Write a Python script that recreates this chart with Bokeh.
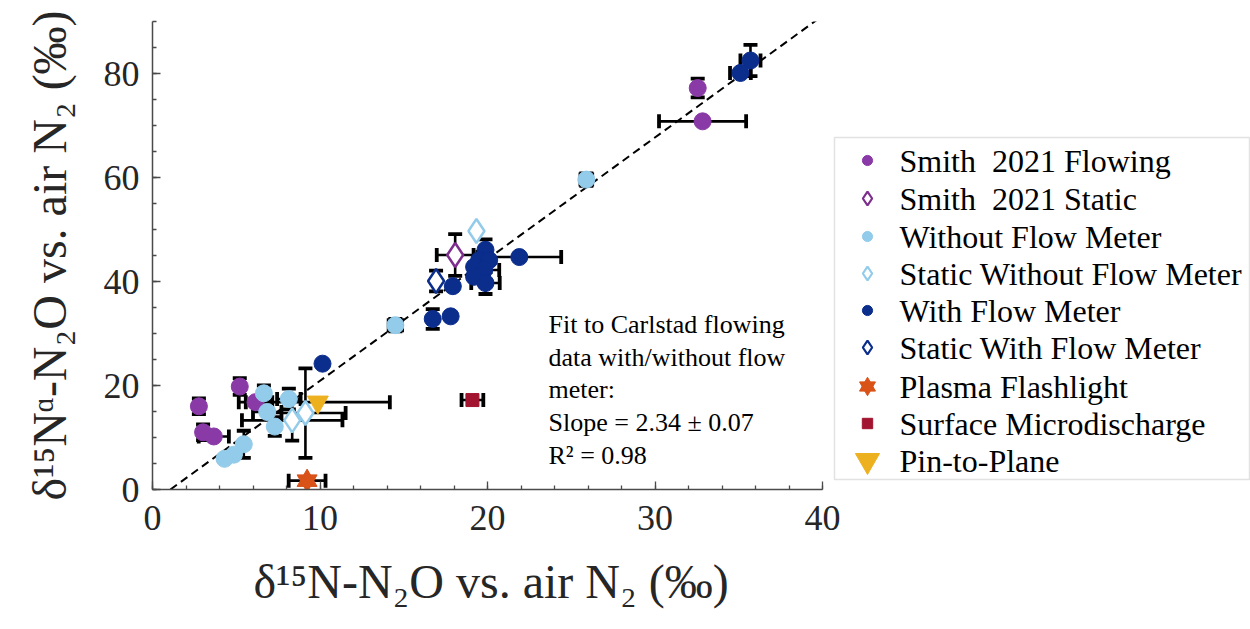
import numpy as np
from bokeh.plotting import figure
from bokeh.models import (Range1d, FixedTicker, Whisker, TeeHead, ColumnDataSource,
                          Label, BoxAnnotation, Title)
from bokeh.embed import file_html
from bokeh.resources import INLINE

FONT = "Liberation Serif"

# ---------------------------------------------------------------- data
x_ticks = [0, 10, 20, 30, 40]
y_ticks = [0, 20, 40, 60, 80]

smith_flow_x = [32.55, 32.84, 5.21, 2.77, 3.02, 3.66, 6.15]
smith_flow_y = [77.2, 70.8, 19.8, 16.0, 11.0, 10.2, 16.8]
smith_flow_xerr = [0, 2.6, 0, 0, 0, 0.9, 1.0]
smith_flow_yerr = [1.8, 0, 1.6, 1.5, 1.5, 0, 0]

smith_static_x = [18.07]
smith_static_y = [45.1]
smith_static_xerr = [1.1]
smith_static_yerr = [4.0]

without_x = [25.9, 14.5, 6.65, 8.14, 6.85, 7.3, 5.45, 4.86, 4.3]
without_y = [59.6, 31.6, 18.5, 17.4, 14.9, 12.1, 8.7, 6.7, 5.9]
without_xerr = [0.35, 0.4, 0, 0.7, 0.85, 0, 0, 0, 0]
without_yerr = [1.2, 1.2, 1.5, 2.0, 0, 1.8, 2.6, 0, 0]

static_without_x = [8.34, 9.13, 19.34]
static_without_y = [13.3, 14.7, 49.7]
static_without_xerr = [3.0, 2.4, 0]
static_without_yerr = [3.9, 8.6, 0]

with_x = [35.7, 35.1, 21.9, 19.88, 19.5, 20.1, 19.2, 19.8, 19.2, 19.88, 17.93, 16.73, 17.8, 10.15]
with_y = [82.5, 80.1, 44.7, 46.1, 44.1, 44.1, 42.8, 42.2, 40.9, 39.7, 39.1, 32.8, 33.3, 24.2]
with_xerr = [0.6, 0.62, 2.5, 0, 0, 0, 0, 0.9, 0, 0.85, 0, 0, 0, 0]
with_yerr = [3.0, 0, 0, 2.0, 0, 0, 0, 0, 0, 2.1, 0, 1.9, 0, 0]

static_with_x = [16.93]
static_with_y = [40.1]
static_with_xerr = [0]
static_with_yerr = [2.0]

plasma_x = [9.23]
plasma_y = [1.7]
plasma_xerr = [1.1]
plasma_yerr = [0]

surface_x = [19.1]
surface_y = [17.2]
surface_xerr = [0.65]
surface_yerr = [0]

pin_x = [9.87]
pin_y = [16.8]
pin_xerr = [4.3]
pin_yerr = [0]

fit_slope = 2.34
fit_intercept = -2.5

legend_labels = ["Smith\u00a0 2021 Flowing", "Smith\u00a0 2021 Static", "Without Flow Meter",
                 "Static Without Flow Meter", "With Flow Meter", "Static With Flow Meter",
                 "Plasma Flashlight", "Surface Microdischarge", "Pin-to-Plane"]

annotation_lines = ["Fit to Carlstad flowing", "data with/without flow", "meter:",
                    "Slope = 2.34 \u00b1 0.07", "R\u00b2 = 0.98"]

x_title = "\u03b4\u00b9\u2075N-N\u2082O vs. air N\u2082 (\u2030)"
y_title = "\u03b4\u00b9\u2075N\u1d45-N\u2082O vs. air N\u2082 (\u2030)"

# ---------------------------------------------------------------- layout
FIG_W, FIG_H = 1250, 629
LEFT, TOP, BOTTOM_BORDER = 152, 21, 140
AXIS_PX = 670                      # pixel length of the 0..40 x axis
FRAME_BOTTOM = FIG_H - BOTTOM_BORDER
X_AXIS_MAX = 40
Y_MAX = 90
PX_PER_X = AXIS_PX / X_AXIS_MAX
PX_PER_Y = (FRAME_BOTTOM - TOP) / Y_MAX
X_END = (FIG_W - LEFT) / PX_PER_X


def px2x(px):
    return (px - LEFT) / PX_PER_X


def px2y(py):
    return (FRAME_BOTTOM - py) / PX_PER_Y


PURPLE = "#8a3aa6"
PURPLE_D = "#7e2f8e"
LBLUE = "#93cbea"
DBLUE = "#0b2d8c"
ORANGE = "#d95319"
RED = "#a2142f"
YELLOW = "#edb120"

p = figure(width=FIG_W, height=FIG_H, x_range=Range1d(0, X_END), y_range=Range1d(0, Y_MAX),
           output_backend="svg", toolbar_location=None,
           min_border_left=LEFT, min_border_right=0, min_border_top=TOP,
           min_border_bottom=BOTTOM_BORDER)
p.grid.visible = False
p.outline_line_color = None
p.background_fill_color = "white"
p.border_fill_color = "white"

for ax in (p.xaxis[0], p.yaxis[0]):
    ax.axis_line_color = "#4a4a4a"
    ax.axis_line_width = 1.5
    ax.major_tick_line_color = "#4a4a4a"
    ax.minor_tick_line_color = "#4a4a4a"
    ax.major_tick_line_width = 1.3
    ax.minor_tick_line_width = 1.3
    ax.major_tick_in = 8
    ax.major_tick_out = 0
    ax.minor_tick_in = 4
    ax.minor_tick_out = 0
    ax.major_label_text_font = FONT
    ax.major_label_text_font_size = "36px"
    ax.major_label_text_color = "#262626"
    ax.axis_label_text_font = FONT
    ax.axis_label_text_font_size = "48px"
    ax.axis_label_text_font_style = "normal"
    ax.axis_label_text_color = "#262626"

p.xaxis.major_label_standoff = 16
p.yaxis.major_label_standoff = 13
p.yaxis.axis_label = y_title
p.yaxis.axis_label_standoff = 25

p.xaxis.bounds = (0, X_AXIS_MAX)
p.xaxis.ticker = FixedTicker(ticks=x_ticks, minor_ticks=list(range(0, X_AXIS_MAX + 1, 2)))
p.yaxis.ticker = FixedTicker(ticks=y_ticks, minor_ticks=list(range(0, Y_MAX + 1, 5)))

# x title centred under the 0..40 axis (not under the whole frame)
p.add_layout(Title(text=x_title, align="left", offset=101, standoff=40,
                   text_font=FONT, text_font_size="48px", text_font_style="normal",
                   text_color="#262626"), "below")


def add_errorbars(xs, ys, xerr, yerr):
    hx = [(x, y, e) for x, y, e in zip(xs, ys, xerr) if e > 0]
    vy = [(x, y, e) for x, y, e in zip(xs, ys, yerr) if e > 0]
    if hx:
        src = ColumnDataSource(dict(base=[h[1] for h in hx], lower=[h[0] - h[2] for h in hx],
                                    upper=[h[0] + h[2] for h in hx]))
        p.add_layout(Whisker(source=src, base="base", lower="lower", upper="upper",
                             dimension="width", line_color="black", line_width=2.6,
                             level="underlay",
                             upper_head=TeeHead(size=14, line_width=3.8, line_color="black"),
                             lower_head=TeeHead(size=14, line_width=3.8, line_color="black")))
    if vy:
        src = ColumnDataSource(dict(base=[v[0] for v in vy], lower=[v[1] - v[2] for v in vy],
                                    upper=[v[1] + v[2] for v in vy]))
        p.add_layout(Whisker(source=src, base="base", lower="lower", upper="upper",
                             dimension="height", line_color="black", line_width=2.6,
                             level="underlay",
                             upper_head=TeeHead(size=14, line_width=3.8, line_color="black"),
                             lower_head=TeeHead(size=14, line_width=3.8, line_color="black")))


# fit line
fit_x0 = -fit_intercept / fit_slope
fit_xs = [fit_x0, X_AXIS_MAX]
fit_ys = [fit_slope * x + fit_intercept for x in fit_xs]
p.line(fit_xs, fit_ys, line_color="black", line_width=2, line_dash="8 5")

series = [
    (smith_flow_x, smith_flow_y, smith_flow_xerr, smith_flow_yerr,
     dict(marker="circle", size=17, fill_color=PURPLE, line_color=PURPLE)),
    (smith_static_x, smith_static_y, smith_static_xerr, smith_static_yerr,
     dict(marker="diamond", size=24, fill_color="white", line_color=PURPLE_D, line_width=2.5)),
    (without_x, without_y, without_xerr, without_yerr,
     dict(marker="circle", size=17, fill_color=LBLUE, line_color=LBLUE)),
    (static_without_x, static_without_y, static_without_xerr, static_without_yerr,
     dict(marker="diamond", size=24, fill_color="white", line_color=LBLUE, line_width=2.5)),
    (with_x, with_y, with_xerr, with_yerr,
     dict(marker="circle", size=17, fill_color=DBLUE, line_color=DBLUE)),
    (static_with_x, static_with_y, static_with_xerr, static_with_yerr,
     dict(marker="diamond", size=24, fill_color="white", line_color=DBLUE, line_width=2.5)),
    (plasma_x, plasma_y, plasma_xerr, plasma_yerr,
     dict(marker="hexagram", size=20, fill_color=ORANGE, line_color=ORANGE)),
    (surface_x, surface_y, surface_xerr, surface_yerr,
     dict(marker="square", size=13, fill_color=RED, line_color=RED)),
    (pin_x, pin_y, pin_xerr, pin_yerr,
     dict(marker="inverted_triangle", size=21, fill_color=YELLOW, line_color=YELLOW)),
]


def draw_marker(xs, ys, style, scale=1.0):
    st = dict(style)
    size = st.pop("size") * scale
    marker = st.pop("marker")
    if marker == "hexagram":
        for m in ("triangle", "inverted_triangle"):
            p.scatter(xs, ys, marker=m, size=size, **st)
    else:
        p.scatter(xs, ys, marker=marker, size=size, **st)


for xs, ys, xe, ye, style in series:
    add_errorbars(xs, ys, xe, ye)
    draw_marker(xs, ys, style)

# ---------------------------------------------------------------- annotation text
ann_centers = [323.5, 356.5, 389, 421.5, 455]
for txt, cy in zip(annotation_lines, ann_centers):
    p.add_layout(Label(x=px2x(548), y=px2y(cy), text=txt, text_font=FONT,
                       text_font_size="26px", text_color="black",
                       text_baseline="middle", text_align="left"))

# ---------------------------------------------------------------- legend
p.add_layout(BoxAnnotation(left=px2x(834), right=px2x(1249), top=px2y(137), bottom=px2y(479),
                           fill_color="white", fill_alpha=1.0, line_color="#a0a0a0",
                           line_width=1.5, level="underlay"))
legend_rows = [160, 198, 236, 273, 310, 347, 386, 423, 460]
legend_scale = [0.6, 0.58, 0.6, 0.58, 0.6, 0.58, 0.8, 0.8, 1.15]
for (xs, ys, xe, ye, style), lbl, ry, sc in zip(series, legend_labels, legend_rows, legend_scale):
    st = dict(style)
    if "line_width" in st:
        st["line_width"] = 2.2
    draw_marker([px2x(867)], [px2y(ry)], st, scale=sc)
    p.add_layout(Label(x=px2x(899), y=px2y(ry + 0.5), text=lbl, text_font=FONT,
                       text_font_size="32px", text_color="black",
                       text_baseline="middle", text_align="left"))

open("out.html", "w").write(file_html(p, INLINE))
